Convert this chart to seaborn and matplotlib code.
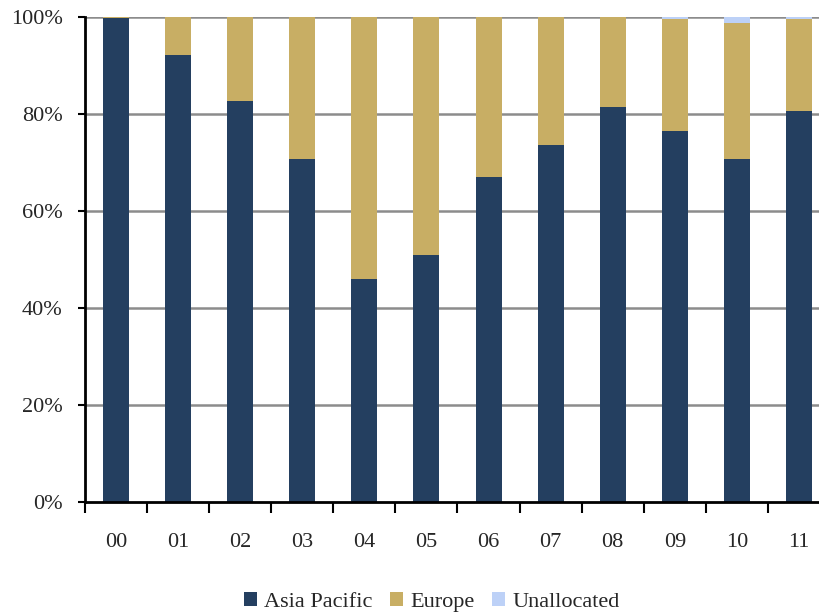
import numpy as np
import pandas as pd
import matplotlib
matplotlib.use("Agg")
import matplotlib.pyplot as plt
import seaborn as sns
from matplotlib.patches import Patch

# Regional split of the portfolio by year (% of total)
years = ["00", "01", "02", "03", "04", "05", "06", "07", "08", "09", "10", "11"]
asia_pacific = [99.7, 92.2, 82.7, 70.7, 46.0, 50.9, 67.0, 73.6, 81.4, 76.5, 70.7, 80.6]
europe = [0.3, 7.8, 17.3, 29.3, 54.0, 49.1, 33.0, 26.4, 18.6, 23.1, 28.1, 18.9]
unallocated = [0.0, 0.0, 0.0, 0.0, 0.0, 0.0, 0.0, 0.0, 0.0, 0.4, 1.2, 0.5]

series_names = ["Asia Pacific", "Europe", "Unallocated"]
colors = ["#243F60", "#C8AE64", "#BDD1F7"]

df = pd.DataFrame({"year": years, "Asia Pacific": asia_pacific,
                   "Europe": europe, "Unallocated": unallocated})
df["ap_top"] = df["Asia Pacific"]
df["eu_top"] = df["ap_top"] + df["Europe"]
df["un_top"] = df["eu_top"] + df["Unallocated"]

sns.set_theme(style="white")
plt.rcParams["font.family"] = ["Liberation Serif", "DejaVu Serif"]

FS = 16

fig = plt.figure(figsize=(8.2, 6.14), dpi=100)
ax = fig.add_axes([85 / 820, 112 / 614, 745 / 820, 485 / 614])

# Stacked bars: draw cumulative totals from the top segment down
for col, c in zip(["un_top", "eu_top", "ap_top"], colors[::-1]):
    sns.barplot(data=df, x="year", y=col, color=c, width=0.42, ax=ax,
                saturation=1, edgecolor="none", linewidth=0, zorder=3)

ax.set_xlim(-0.5, len(years) - 0.5)
ax.set_ylim(0, 100)
ax.set_xlabel("")
ax.set_ylabel("")

# Horizontal gridlines
for v in [20, 40, 60, 80, 100]:
    ax.axhline(v, color="#8C8C8C", lw=1.8, zorder=1)

ax.set_yticks([0, 20, 40, 60, 80, 100])
ax.set_yticklabels(["0%", "20%", "40%", "60%", "80%", "100%"], fontsize=FS)
ax.tick_params(axis="y", which="major", direction="out", length=5, width=1.5,
               color="black", pad=11, left=True)

# Category labels at centres, tick marks at category boundaries
ax.set_xticks(range(len(years)))
ax.set_xticklabels(years, fontsize=FS)
ax.tick_params(axis="x", which="major", length=0, pad=22)
ax.set_xticks(np.arange(-0.5, len(years), 1.0), minor=True)
ax.tick_params(axis="x", which="minor", direction="out", length=8, width=1.5,
               color="black", bottom=True)

for side in ["top", "right"]:
    ax.spines[side].set_visible(False)
for side in ["left", "bottom"]:
    ax.spines[side].set_color("black")
    ax.spines[side].set_linewidth(2)
    ax.spines[side].set_zorder(4)

handles = [Patch(facecolor=c, edgecolor="none") for c in colors]
fig.legend(handles, series_names, loc="center", bbox_to_anchor=(432 / 820, 1 - 602 / 614),
           ncol=3, frameon=False, fontsize=FS, handlelength=0.55, handleheight=0.55,
           handletextpad=0.35, columnspacing=0.8)

fig.savefig("out.png", dpi=100)
